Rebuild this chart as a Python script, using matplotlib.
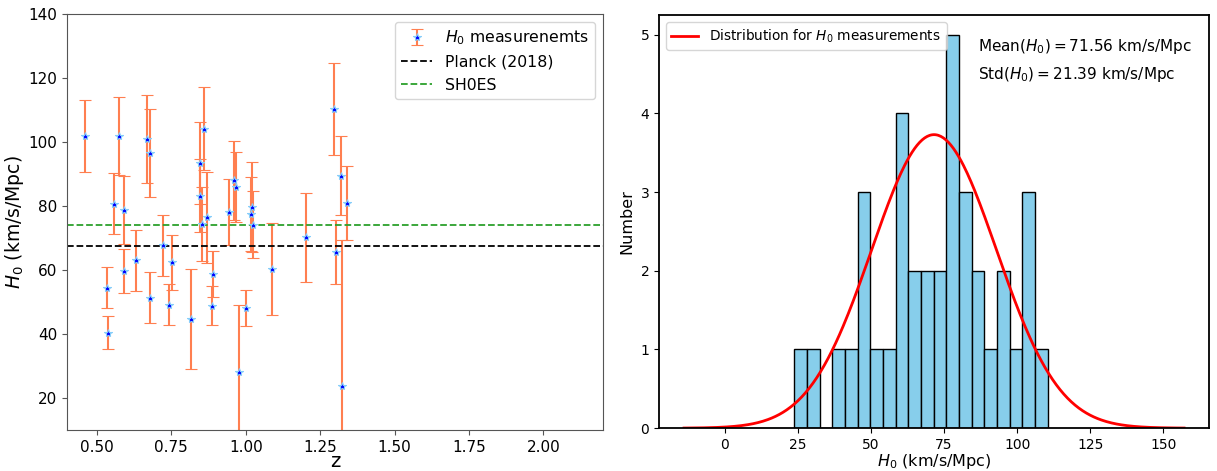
import numpy as np
import matplotlib
matplotlib.use("Agg")
from matplotlib import pyplot as plt

# redshift, H0 and 1-sigma errors
z_vals = [0.461, 0.574, 0.669, 0.678, 0.557, 0.592, 0.859, 0.848, 0.848, 0.870,
          0.853, 0.534, 0.538, 0.592, 0.632, 0.680, 0.721, 0.753, 0.741, 0.817,
          0.889, 0.887, 0.962, 0.966, 0.945, 1.020, 1.017, 1.026, 1.000, 0.977,
          1.087, 1.2015, 1.298, 1.319, 1.341, 1.302, 1.324]
h0_vals = [101.9, 101.9, 100.9, 96.5, 80.7, 78.9, 104.2, 93.5, 83.3, 76.5,
           74.4, 54.5, 40.4, 59.7, 63.0, 51.4, 67.8, 62.4, 49.2, 44.7,
           58.8, 48.9, 88.0, 86.0, 78.1, 79.8, 77.6, 74.2, 48.1, 28.2,
           60.3, 70.3, 110.4, 89.5, 81.0, 65.6, 23.8]
h0_errs = [11.3, 12.3, 13.7, 13.7, 9.5, 10.6, 13.0, 12.9, 11.3, 14.2,
           11.7, 6.4, 5.1, 7.0, 9.5, 8.1, 9.5, 8.5, 6.4, 15.7,
           7.3, 6.1, 12.2, 10.9, 10.3, 14.0, 11.5, 10.5, 5.6, 21.0,
           14.3, 13.9, 14.3, 12.4, 11.5, 10.0, 45.7]

planck_h0 = 67.4
shoes_h0 = 74.03

# summary numbers printed on the histogram panel
mean_h0 = 71.56
std_h0 = 21.39
n_bins = 20
curve_scale = 200  # peak of the plotted curve ~3.73

fig = plt.figure(figsize=(12.17, 4.71), dpi=100)

# ---- left: H0 vs z
ax1 = fig.add_axes([0.0551, 0.087, 0.4404, 0.883])
eb = ax1.errorbar(z_vals, h0_vals, yerr=h0_errs, fmt='*', ms=6, mfc='blue', mec='lightskyblue',
                  mew=0.8, ecolor='coral', elinewidth=1.5, capsize=4, capthick=1.5,
                  label=r'$H_0$ measurenemts')
l1 = ax1.axhline(planck_h0, color='black', ls='--', lw=1.3, label='Planck (2018)')
l2 = ax1.axhline(shoes_h0, color='tab:green', ls='--', lw=1.3, label='SH0ES')
ax1.set_xlim(0.4, 2.2)
ax1.set_ylim(10, 140)
ax1.set_xlabel('z', fontsize=14, labelpad=-2)
ax1.set_ylabel(r'$H_0$ (km/s/Mpc)', fontsize=13.5, labelpad=2)
ax1.tick_params(labelsize=11, color='#555555')
for sp in ax1.spines.values():
    sp.set_color('#555555')
ax1.legend(handles=[eb, l1, l2], fontsize=11.3, loc='upper right')

# ---- right: histogram of H0
ax2 = fig.add_axes([0.5415, 0.091, 0.452, 0.877])
ax2.hist(h0_vals, bins=n_bins, color='skyblue', edgecolor='black', lw=1)
xs = np.linspace(mean_h0 - 4 * std_h0, mean_h0 + 4 * std_h0, 400)
pdf = np.exp(-0.5 * ((xs - mean_h0) / std_h0) ** 2) / (std_h0 * np.sqrt(2 * np.pi))
ax2.plot(xs, pdf * curve_scale, color='red', lw=2, label=r'Distribution for $H_0$ measurements')
ax2.set_xlabel(r'$H_0$ (km/s/Mpc)', fontsize=11.5, labelpad=0)
ax2.set_ylabel('Number', fontsize=11.5)
ax2.tick_params(labelsize=10)
for sp in ax2.spines.values():
    sp.set_linewidth(1.3)
ax2.legend(fontsize=9.8, loc='upper left')
ax2.text(0.58, 0.923, rf'Mean($H_0$)$ = {mean_h0:.2f}$ km/s/Mpc', transform=ax2.transAxes,
         fontsize=11, va='center')
ax2.text(0.58, 0.856, rf'Std($H_0$)$ = {std_h0:.2f}$ km/s/Mpc', transform=ax2.transAxes,
         fontsize=11, va='center')

fig.savefig('out.png', dpi=100)
